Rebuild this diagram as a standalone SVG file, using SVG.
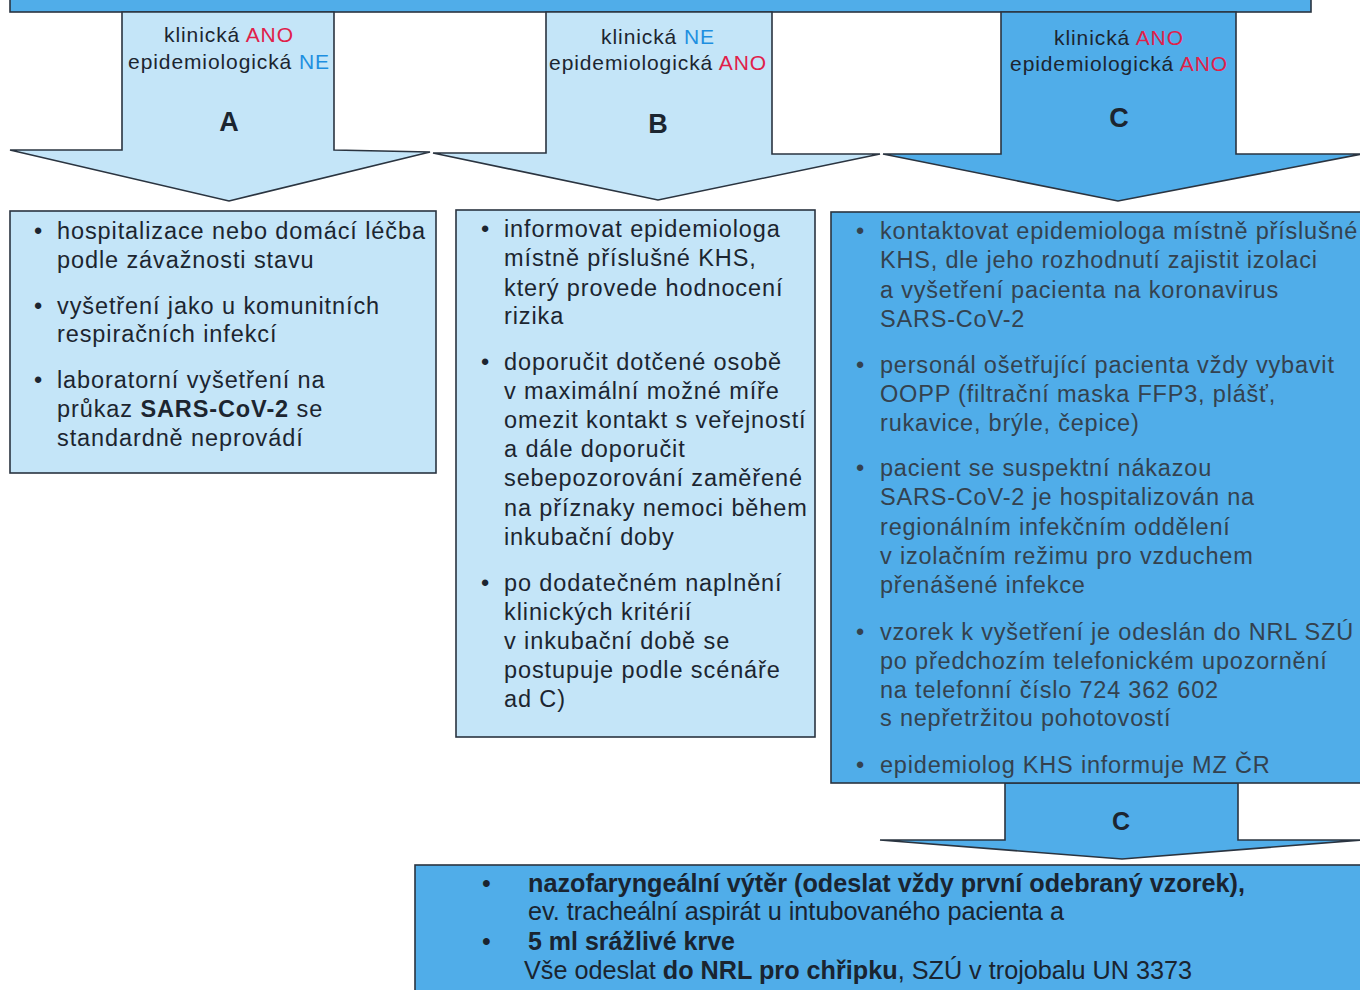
<svg xmlns="http://www.w3.org/2000/svg" width="1360" height="990" viewBox="0 0 1360 990">
<style>
.lt{fill:#c4e5f8;stroke:#2a3440;stroke-width:1.6}
.dk{fill:#50ade9;stroke:#2a3440;stroke-width:1.6}
text{font-family:"Liberation Sans",Arial,sans-serif}
.lab{font-size:21px;letter-spacing:0.9px;fill:#1c2530;text-anchor:middle}
.let{font-size:27px;font-weight:bold;fill:#1c2530;text-anchor:middle}
.r{fill:#e0204a}
.b{fill:#1e8fe0}
.bx{font-size:23.5px;letter-spacing:0.9px;fill:#1c2530}
.bxc{font-size:23.5px;letter-spacing:0.8px;fill:#34424f}
.bt{font-size:25px;fill:#1a2430}
.bold{font-weight:bold}
</style>
<rect width="1360" height="990" fill="#ffffff"/>
<g id="top-bar"><rect class="dk" x="10" y="-10" width="1301" height="22"/></g>
<g id="connectors">
<g id="arrow-A">
<polygon class="lt" points="122,12 334,12 334,150 430,152 229,201 10,150 122,150"/>
<text class="lab" x="229" y="42">klinická <tspan class="r">ANO</tspan></text>
<text class="lab" x="229" y="69">epidemiologická <tspan class="b">NE</tspan></text>
<text class="let" x="229" y="131">A</text>
</g>
<g id="arrow-B">
<polygon class="lt" points="546,12 772,12 772,154 880,154 658,200 433,153 546,153"/>
<text class="lab" x="658" y="44">klinická <tspan class="b">NE</tspan></text>
<text class="lab" x="658" y="70">epidemiologická <tspan class="r">ANO</tspan></text>
<text class="let" x="658" y="133">B</text>
</g>
<g id="arrow-C">
<polygon class="dk" points="1001,12 1236,12 1236,154 1362,154 1118,201 883,154 1001,154"/>
<text class="lab" x="1119" y="45">klinická <tspan class="r">ANO</tspan></text>
<text class="lab" x="1119" y="71">epidemiologická <tspan class="r">ANO</tspan></text>
<text class="let" x="1119" y="127">C</text>
</g>
<g id="arrow-C2">
<polygon class="dk" points="1005,783 1238,783 1238,840 1362,840 1122,859 880,840 1005,840"/>
<text class="let" x="1121" y="830" style="font-size:25px">C</text>
</g>
</g>
<g id="box-A">
<rect class="lt" x="10" y="211" width="426" height="262"/>
<g class="bx">
<text x="34" y="239">•</text>
<text x="57" y="239">hospitalizace nebo domácí léčba</text>
<text x="57" y="268">podle závažnosti stavu</text>
<text x="34" y="314">•</text>
<text x="57" y="314">vyšetření jako u komunitních</text>
<text x="57" y="342">respiračních infekcí</text>
<text x="34" y="388">•</text>
<text x="57" y="388">laboratorní vyšetření na</text>
<text x="57" y="417">průkaz <tspan class="bold">SARS-CoV-2</tspan> se</text>
<text x="57" y="446">standardně neprovádí</text>
</g>
</g>
<g id="box-B">
<rect class="lt" x="456" y="210" width="359" height="527"/>
<g class="bx">
<text x="481" y="237">•</text>
<text x="504" y="237">informovat epidemiologa</text>
<text x="504" y="266">místně příslušné KHS,</text>
<text x="504" y="296">který provede hodnocení</text>
<text x="504" y="324">rizika</text>
<text x="481" y="370">•</text>
<text x="504" y="370">doporučit dotčené osobě</text>
<text x="504" y="399">v maximální možné míře</text>
<text x="504" y="428">omezit kontakt s veřejností</text>
<text x="504" y="457">a dále doporučit</text>
<text x="504" y="486">sebepozorování zaměřené</text>
<text x="504" y="516">na příznaky nemoci během</text>
<text x="504" y="545">inkubační doby</text>
<text x="481" y="591">•</text>
<text x="504" y="591">po dodatečném naplnění</text>
<text x="504" y="620">klinických kritérií</text>
<text x="504" y="649">v inkubační době se</text>
<text x="504" y="678">postupuje podle scénáře</text>
<text x="504" y="707">ad C)</text>
</g>
</g>
<g id="box-C">
<rect class="dk" x="831" y="212" width="535" height="571"/>
<g class="bxc">
<text x="856" y="239">•</text>
<text x="880" y="239">kontaktovat epidemiologa místně příslušné</text>
<text x="880" y="268">KHS, dle jeho rozhodnutí zajistit izolaci</text>
<text x="880" y="298">a vyšetření pacienta na koronavirus</text>
<text x="880" y="327">SARS-CoV-2</text>
<text x="856" y="373">•</text>
<text x="880" y="373">personál ošetřující pacienta vždy vybavit</text>
<text x="880" y="402">OOPP (filtrační maska FFP3, plášť,</text>
<text x="880" y="431">rukavice, brýle, čepice)</text>
<text x="856" y="476">•</text>
<text x="880" y="476">pacient se suspektní nákazou</text>
<text x="880" y="505">SARS-CoV-2 je hospitalizován na</text>
<text x="880" y="535">regionálním infekčním oddělení</text>
<text x="880" y="564">v izolačním režimu pro vzduchem</text>
<text x="880" y="593">přenášené infekce</text>
<text x="856" y="640">•</text>
<text x="880" y="640">vzorek k vyšetření je odeslán do NRL SZÚ</text>
<text x="880" y="669">po předchozím telefonickém upozornění</text>
<text x="880" y="698">na telefonní číslo 724 362 602</text>
<text x="880" y="726">s nepřetržitou pohotovostí</text>
<text x="856" y="773">•</text>
<text x="880" y="773">epidemiolog KHS informuje MZ ČR</text>
</g>
</g>
<g id="box-bottom">
<rect class="dk" x="415" y="865" width="951" height="135"/>
<g class="bt">
<text x="482" y="892">•</text>
<text class="bold" x="528" y="892" textLength="717" lengthAdjust="spacingAndGlyphs">nazofaryngeální výtěr (odeslat vždy první odebraný vzorek),</text>
<text x="528" y="920" textLength="536" lengthAdjust="spacingAndGlyphs">ev. tracheální aspirát u intubovaného pacienta a</text>
<text x="482" y="950">•</text>
<text class="bold" x="528" y="950" textLength="207" lengthAdjust="spacingAndGlyphs">5 ml srážlivé krve</text>
<text x="524" y="979" textLength="668" lengthAdjust="spacingAndGlyphs">Vše odeslat <tspan class="bold">do NRL pro chřipku</tspan>, SZÚ v trojobalu UN 3373</text>
</g>
</g>
</svg>
